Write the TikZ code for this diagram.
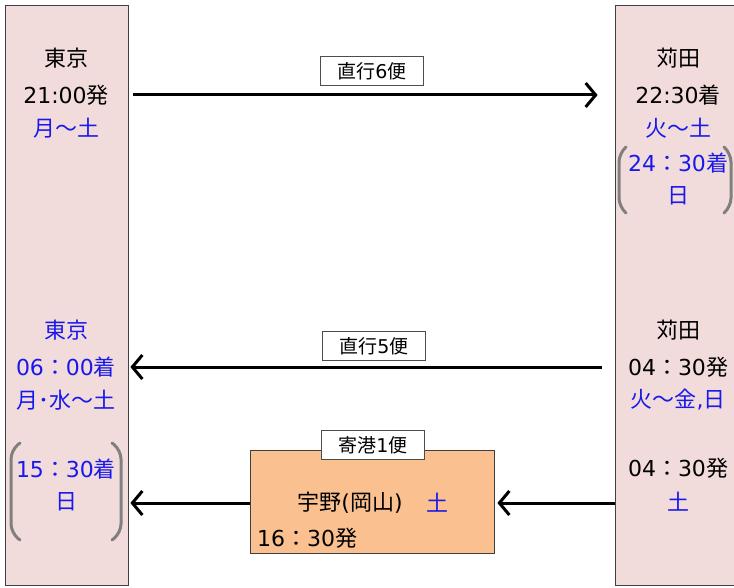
\documentclass[tikz,border=0pt]{standalone}
\usepackage{fontspec}
\setmainfont{Noto Sans CJK JP}
\newfontfamily\lat{DejaVu Sans}
\usetikzlibrary{arrows.meta}
\definecolor{colfill}{RGB}{242,220,219}
\definecolor{orfill}{RGB}{250,192,143}
\definecolor{txtblue}{RGB}{25,25,235}
\definecolor{brgray}{RGB}{128,128,128}
\begin{document}
\begin{tikzpicture}[x=1pt,y=-1pt,
  colbox/.style={draw=black!75, fill=colfill, line width=0.8pt, inner sep=0},
  lbl/.style={font=\fontsize{22}{26}\selectfont, inner sep=0},
  bl/.style={lbl, text=txtblue},
  tag/.style={draw=black!70, fill=white, font=\fontsize{19}{22}\selectfont, minimum width=103pt, minimum height=29pt, line width=0.8pt, inner sep=0},
  arr/.style={line width=3pt, -{Straight Barb[length=10pt,width=24pt]}},
  br/.style={draw=brgray, line width=3pt, line cap=round, rounded corners=9pt}
]
\useasboundingbox (0,0) rectangle (734,588);
% columns
\node[colbox, minimum width=123pt, minimum height=580pt] (L) at (66.5,295) {};
\node[colbox, minimum width=130pt, minimum height=580pt] (R) at (680,295) {};
% left top
\node[lbl] (l1) at (66,58) {東京};
\node[lbl] (l2) at (66,95) {{\lat 21:00}発};
\node[bl] (l3) at (66,128) {月～土};
% left middle
\node[bl] (l4) at (66,330) {東京};
\node[bl] (l5) at (66,367) {{\lat 06}：{\lat 00}着};
\node[bl] (l6) at (66,400) {月･水～土};
\node[bl] (l7) at (66,469) {{\lat 15}：{\lat 30}着};
\node[bl] (l8) at (66,502) {日};
\draw[br] (20,443) -- (11,450) -- (11,533) -- (20,540);
\draw[br] (112,443) -- (121,450) -- (121,533) -- (112,540);
% right top
\node[lbl] (r1) at (678,58) {苅田};
\node[lbl] (r2) at (678,95) {{\lat 22:30}着};
\node[bl] (r3) at (678,128) {火～土};
\node[bl] (r4) at (678,163) {{\lat 24}：{\lat 30}着};
\node[bl] (r5) at (678,196) {日};
\draw[br] (626,147) -- (619,153) -- (619,207) -- (626,213);
\draw[br] (724,147) -- (731,153) -- (731,207) -- (724,213);
% right middle
\node[lbl] (r6) at (678,330) {苅田};
\node[lbl] (r7) at (678,367) {{\lat 04}：{\lat 30}発};
\node[bl] (r8) at (678,400) {火～金{\lat ,}日};
\node[lbl] (r9) at (678,468) {{\lat 04}：{\lat 30}発};
\node[bl] (r10) at (678,502) {土};
% orange box
\node[draw=black!75, fill=orfill, line width=0.8pt, minimum width=244pt, minimum height=103pt, inner sep=0] (U) at (372,501.5) {};
\node[lbl] (u1) at (350,503) {宇野{\lat (}岡山{\lat )}};
\node[bl] (u2) at (437,503) {土};
\node[lbl, anchor=west] (u3) at (257,538) {{\lat 16}：{\lat 30}発};
\node[tag] (t3) at (373,445) {寄港{\lat 1}便};
% arrows
\coordinate (a1s) at (L.east |- l2);
\coordinate (a1e) at (R.west |- l2);
\draw[arr, shorten <=5pt, shorten >=17pt] (a1s) -- (a1e);
\node[tag] (t1) at (372,71) {直行{\lat 6}便};
\coordinate (a2s) at (R.west |- r7);
\coordinate (a2e) at (L.east |- r7);
\draw[arr, shorten <=13pt, shorten >=2pt] (a2s) -- (a2e);
\node[tag] (t2) at (374,346) {直行{\lat 5}便};
\coordinate (a3s) at (R.west |- u1);
\coordinate (a3e) at (U.east |- u1);
\draw[arr, shorten <=0pt, shorten >=3pt] (a3s) -- (a3e);
\coordinate (a4s) at (U.west |- u1);
\coordinate (a4e) at (L.east |- u1);
\draw[arr, shorten >=2pt] (a4s) -- (a4e);
\end{tikzpicture}
\end{document}
